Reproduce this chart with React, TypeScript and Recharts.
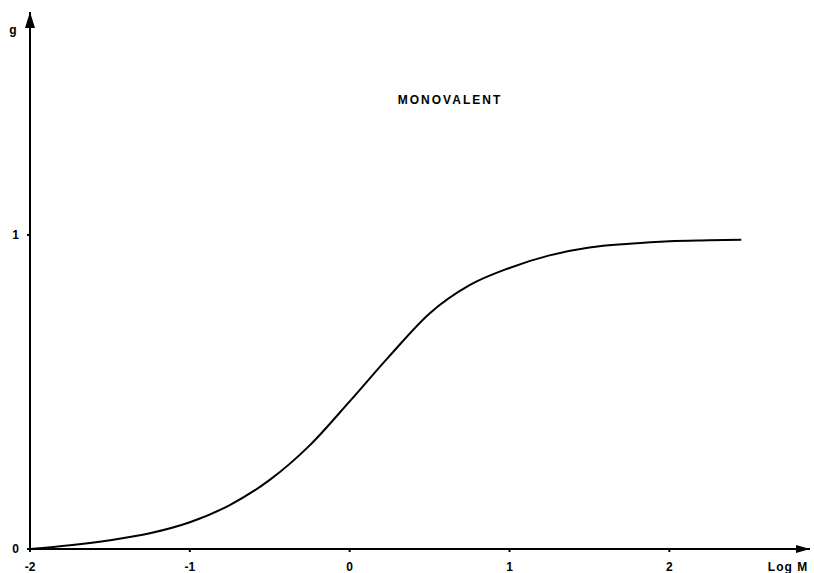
import React from "react";
import { LineChart, Line, XAxis, YAxis, Customized } from "recharts";

// log M values and the read-off fraction g
const logM = [-2, -1.75, -1.5, -1.25, -1, -0.75, -0.5, -0.25, 0, 0.25, 0.5, 0.75, 1, 1.25, 1.5, 1.75, 2, 2.25, 2.45];
const gValues = [0, 0.012, 0.028, 0.05, 0.085, 0.14, 0.22, 0.33, 0.47, 0.615, 0.75, 0.84, 0.895, 0.935, 0.96, 0.972, 0.98, 0.983, 0.985];

const xTicks = [-2, -1, 0, 1, 2];
const yTicks = [0, 1];

const data = logM.map((x, i) => ({ x, g: gValues[i] }));

const W = 814;
const H = 573;
const LEFT = 30;
const TOP = 12;
const RIGHT = 810;
const BOTTOM = 549;
const font = "'Liberation Sans', Arial, sans-serif";

const Decorations = () => (
  <g>
    {/* arrow heads */}
    <polygon points={`${LEFT},${TOP} ${LEFT - 5},${TOP + 16} ${LEFT + 5},${TOP + 16}`} fill="#000" />
    <polygon points={`${RIGHT},${BOTTOM} ${RIGHT - 14},${BOTTOM - 4} ${RIGHT - 14},${BOTTOM + 4}`} fill="#000" />
    <text x={13} y={34} fontFamily={font} fontSize={12} fontWeight="bold" textAnchor="middle">g</text>
    <text x={788} y={571} fontFamily={font} fontSize={12} fontWeight="bold" textAnchor="middle" letterSpacing={1}>Log M</text>
    <text x={450} y={104} fontFamily={font} fontSize={12} fontWeight="bold" textAnchor="middle" letterSpacing={2}>MONOVALENT</text>
  </g>
);

export default function App() {
  return (
    <div style={{ position: "absolute", left: 0, top: 0, background: "#fff" }}>
      <LineChart
        width={W}
        height={H}
        data={data}
        margin={{ top: TOP, right: W - RIGHT, bottom: 0, left: LEFT - 20 }}
      >
        <XAxis
          dataKey="x"
          type="number"
          domain={[-2, 2.88]}
          ticks={xTicks}
          height={H - BOTTOM}
          stroke="#000"
          strokeWidth={2}
          tickSize={3}
          tickMargin={10}
          tick={{ fill: "#000", fontSize: 12, fontWeight: "bold", fontFamily: font }}
          allowDataOverflow
        />
        <YAxis
          type="number"
          domain={[0, 1.71]}
          ticks={yTicks}
          width={20}
          stroke="#000"
          strokeWidth={2}
          tickSize={3}
          tickMargin={8}
          tick={{ fill: "#000", fontSize: 12, fontWeight: "bold", fontFamily: font }}
          allowDataOverflow
        />
        <Line
          type="monotone"
          dataKey="g"
          stroke="#000"
          strokeWidth={2}
          dot={false}
          isAnimationActive={false}
        />
        <Customized component={Decorations} />
      </LineChart>
    </div>
  );
}
